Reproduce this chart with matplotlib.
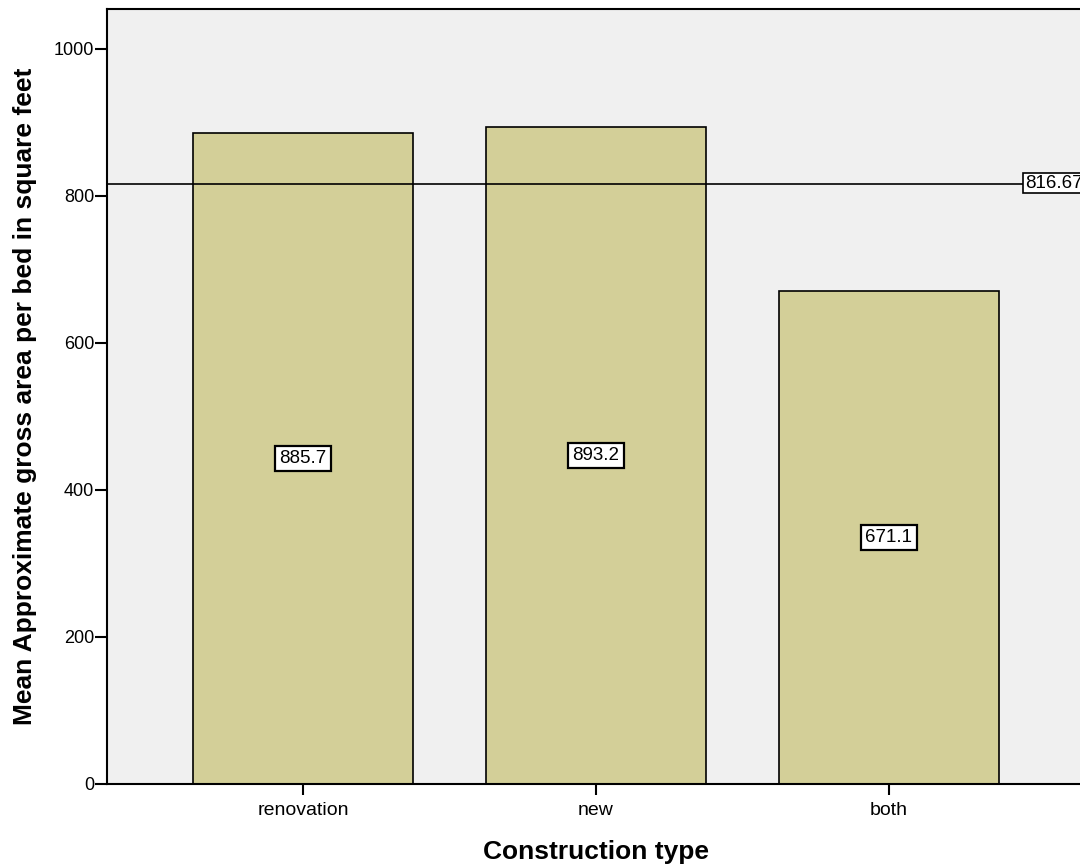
import matplotlib
matplotlib.use("Agg")
import matplotlib.pyplot as plt
import numpy as np

categories = ["renovation", "new", "both"]
means = [885.7, 893.2, 671.1]
mean_line = 816.67
yticks = [0, 200, 400, 600, 800, 1000]

plt.rcParams['font.family'] = ['Liberation Sans', 'DejaVu Sans']

fig = plt.figure(figsize=(10.8, 8.65), dpi=100)
W, H = 1080, 865
left, right, top, bottom = 107, 1085, 9, 784
ax = fig.add_axes([left / W, 1 - bottom / H, (right - left) / W, (bottom - top) / H])
ax.set_facecolor("#F0F0F0")

x = np.arange(len(categories))
ax.bar(x, means, width=0.75, color="#D3CF98", edgecolor="black", linewidth=1.2, zorder=2)
ax.set_xlim(-0.669, 2.669)
ax.set_ylim(0, 1054)

ax.axhline(mean_line, color="black", linewidth=1.2, zorder=3)
ax.text(1025 / W, 1 - 183 / H, f"{mean_line:.2f}", transform=fig.transFigure,
        ha="left", va="center", fontsize=13.5, zorder=5,
        bbox=dict(boxstyle="square,pad=0.1", facecolor="white", edgecolor="black", linewidth=1.2))

for xi, v in zip(x, means):
    ax.text(xi, v / 2, f"{v:.1f}", ha="center", va="center", fontsize=13.5, zorder=5,
            bbox=dict(boxstyle="square,pad=0.22", facecolor="white", edgecolor="black", linewidth=1.6))

ax.set_xticks(x)
ax.set_xticklabels(categories, fontsize=14)
ax.set_yticks(yticks)
ax.set_yticklabels([str(t) for t in yticks], fontsize=13)
ax.tick_params(axis="y", length=8.6, width=1.5, pad=0.5)
ax.tick_params(axis="x", length=8, width=1.5, pad=5)

for s in ["top", "left", "bottom", "right"]:
    ax.spines[s].set_linewidth(1.5)

ax.set_xlabel("Construction type", fontsize=19, fontweight="bold", labelpad=15)
ax.set_ylabel("Mean Approximate gross area per bed in square feet", fontsize=19,
              fontweight="bold", labelpad=12)

fig.savefig("out.png", dpi=100)
